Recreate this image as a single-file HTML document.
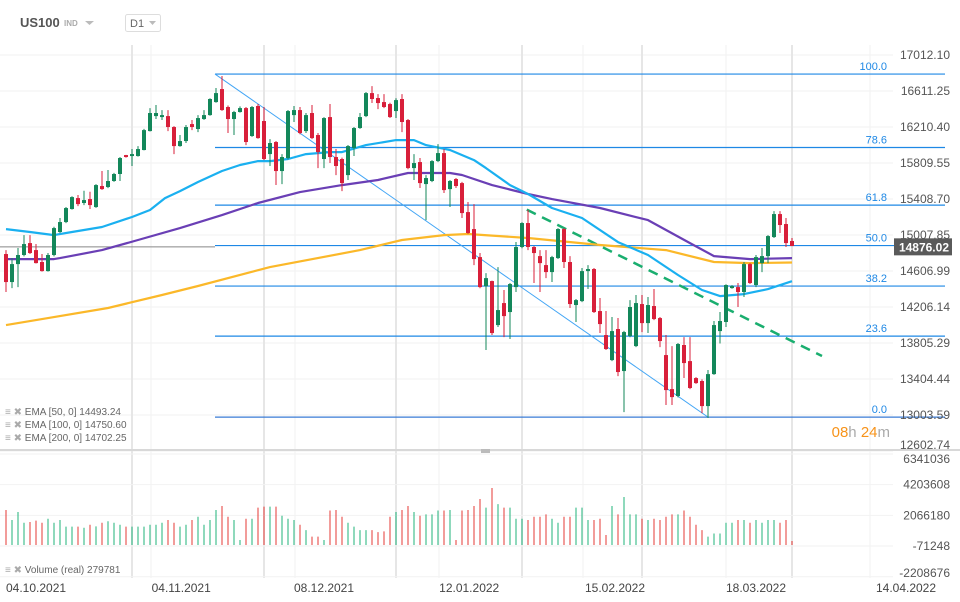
<!DOCTYPE html>
<html><head><meta charset="utf-8">
<style>
html,body{margin:0;padding:0;background:#fff;}
svg{display:block;font-family:"Liberation Sans",sans-serif;}
</style></head>
<body>
<svg id="chart" width="960" height="602" viewBox="0 0 960 602">
  <g id="grid"></g>
  <g id="vol"></g>
  <g id="fib"></g>
  <g id="ema"></g>
  <g id="candles"></g>
  <g id="axes"></g>
  <g>
    <text x="20" y="27" font-size="13" font-weight="bold" fill="#555">US100</text>
    <text x="64" y="26" font-size="8" font-weight="bold" fill="#aaa">IND</text>
    <path d="M85 21 L94 21 L89.5 25 Z" fill="#bbb"/>
    <rect x="125.5" y="14.5" width="35" height="17" rx="2" fill="#fff" stroke="#ddd"/>
    <text x="130" y="27" font-size="11" fill="#666">D1</text>
    <path d="M149 21 L156 21 L152.5 25 Z" fill="#bbb"/>
  </g>
  <g font-size="10" fill="#666">
    <text x="5" y="415"><tspan fill="#aaa">≡ ✖</tspan> EMA [50,  0] 14493.24</text>
    <text x="5" y="428"><tspan fill="#aaa">≡ ✖</tspan> EMA [100,  0] 14750.60</text>
    <text x="5" y="441"><tspan fill="#aaa">≡ ✖</tspan> EMA [200,  0] 14702.25</text>
    <text x="5" y="573"><tspan fill="#aaa">≡ ✖</tspan> Volume  (real)  279781</text>
  </g>
  <text x="890" y="437" font-size="15" text-anchor="end"><tspan fill="#f7931a">08</tspan><tspan fill="#aaa">h </tspan><tspan fill="#f7931a">24</tspan><tspan fill="#aaa">m</tspan></text>
</svg>
<script>
// ---- data ----
const openP=[14796,14484,14684,14785,14918,14840,14707,14606,14785,15041,15152,15297,15419,15364,15408,15319,15553,15542,15609,15687,15898,15887,15887,15954,16165,16332,16321,16332,16210,15998,16054,16243,16188,16299,16343,16488,16633,16433,16299,16377,16421,16110,16444,16277,15909,16043,15720,15865,16343,16399,16165,16366,16121,15854,16321,15876,15854,15675,15976,16199,16332,16588,16533,16488,16466,16388,16522,16288,15753,15820,15575,15609,15831,15920,15519,15631,15586,15263,15074,14762,14439,14495,14005,14250,14150,14428,14874,15141,14874,14773,14673,14595,14751,15074,14707,14228,14272,14606,14629,14161,13894,13615,13961,13493,13883,13771,14239,14027,14217,14083,13671,13292,13215,13783,13604,13415,13382,13103,13459,13938,14039,14417,14428,14373,14684,14451,14695,14773,14985,15241,15130,14941];
const highP=[14840,14751,14863,15007,15007,14907,14796,14807,15100,15197,15320,15440,15453,15500,15490,15575,15720,15731,15700,15876,15900,15965,15998,16190,16420,16455,16399,16399,16220,16121,16232,16288,16343,16399,16530,16644,16778,16450,16390,16440,16433,16444,16466,16433,16076,16054,15909,16400,16444,16433,16366,16455,16143,16320,16466,15965,15870,16010,16210,16366,16600,16666,16577,16577,16480,16530,16577,16300,15909,15865,15675,15842,16020,15965,15620,15642,15600,15375,15352,14807,14584,14500,14650,14395,14473,14930,15150,15286,14885,14840,14840,14775,15085,15085,14773,14295,14640,14673,14640,14306,14161,14095,14083,13940,14283,14340,14340,14317,14406,14095,13894,13771,13805,13871,13871,13425,13400,13504,14050,14150,14460,14450,14473,14707,14695,14785,14863,15007,15274,15274,15197,14974];
const lowP=[14373,14417,14428,14770,14796,14690,14600,14600,14770,15030,15140,15290,15330,15341,15297,15310,15510,15530,15600,15609,15870,15776,15880,15950,16160,16299,16288,16165,15909,15990,16032,16176,16154,16290,16335,16480,16390,16143,16121,16370,16009,16100,16080,15842,15776,15564,15575,15850,16266,16130,16143,16076,15753,15753,15809,15675,15497,15620,15887,16190,16321,16477,16410,16421,16310,16310,16154,15740,15620,15531,15174,15597,15820,15475,15319,15531,15197,15020,14673,14415,13727,13894,13983,13871,13850,14373,14860,14840,14473,14373,14528,14484,14740,14640,14195,14039,14260,14406,14140,13916,13727,13604,13437,13036,13870,13760,13927,13916,14060,13760,13115,13115,13200,13415,13292,13350,13025,12970,13450,13800,13983,14410,14206,14317,14462,14428,14595,14695,14974,15030,14874,14885];
const closeP=[14484,14684,14785,14907,14807,14695,14606,14785,15085,15152,15308,15430,15352,15397,15341,15564,15519,15609,15687,15865,15876,15909,15965,16176,16366,16366,16343,16210,15998,16054,16210,16210,16310,16343,16522,16588,16399,16299,16377,16421,16043,16433,16087,15854,16032,15720,15876,16388,16399,16143,16343,16087,15931,16310,15876,15776,15586,15998,16199,16321,16588,16522,16477,16433,16321,16510,16266,15753,15809,15586,15642,15831,15920,15508,15609,15553,15252,15030,14740,14428,14528,13916,14172,14105,14462,14874,15141,14874,14807,14695,14595,14762,15074,14707,14239,14283,14606,14629,14150,14016,13738,13938,13482,13927,14206,14250,14027,14228,14072,13827,13281,13203,13794,13582,13304,13359,13103,13459,14005,14050,14451,14439,14373,14684,14473,14762,14773,14996,15241,15119,14918,14885];
const volumeM=[2.44,1.74,2.30,1.55,1.60,1.70,1.55,1.83,1.55,1.74,1.28,1.28,1.28,1.20,1.41,1.30,1.55,1.65,1.55,1.41,1.28,
1.28,1.28,1.28,1.41,1.41,1.55,1.74,1.55,1.28,1.41,1.74,1.97,1.41,1.74,2.44,2.72,1.97,1.74,
0.35,
1.83,1.83,2.60,2.67,2.67,2.67,2.04,1.83,1.74,1.41,
1.04,0.58,0.58,0.35,2.40,2.44,
1.97,1.55,1.28,1.04,1.04,1.04,0.90,0.95,1.97,2.30,2.44,2.72,2.30,2.04,2.13,2.13,2.40,2.40,2.44,
0.35,
2.40,2.44,2.72,3.20,2.60,3.97,2.85,2.60,2.60,1.83,1.83,1.74,1.97,1.97,2.13,1.83,1.55,1.97,1.97,2.60,2.60,1.74,1.74,1.83,
0.70,
2.72,2.13,3.34,2.13,2.13,1.83,1.74,1.83,1.74,1.97,2.13,2.13,2.40,1.97,1.41,
1.04,0.58,0.80,0.80,1.55,1.55,
1.74,1.74,1.55,1.74,1.55,1.74,1.74,1.55,1.74,
0.28];
const ema50Idx=[0,4,8,11,16,21,24,26.5,29,32,36,39,42,44,47,50,54,56,60,65,68,70,74,78,80,84,87,91,96,102,107,112,116,119,123,127,131];
const ema50Val=[15074,15041,15007,15041,15097,15208,15286,15419,15497,15598,15720,15787,15831,15831,15854,15909,15931,15931,16009,16065,16065,16009,15954,15842,15753,15564,15464,15308,15197,14929,14785,14562,14395,14328,14350,14406,14493];
const ema100Idx=[0,8,9,16,22,29,36,42,49,56,62,67,74,76,81,87,91,99,107,114,118,124,131];
const ema100Val=[14740,14740,14751,14840,14952,15085,15230,15364,15486,15564,15620,15698,15698,15676,15564,15464,15408,15308,15174,14918,14773,14740,14751];
const ema200Idx=[0,7,17,26,32,44,59,66,73,77,87,99,110,118,124,131];
const ema200Val=[14005,14083,14195,14340,14440,14651,14840,14952,15007,15019,14974,14896,14840,14707,14695,14702];
const priceTicks=["17012.10","16611.25","16210.40","15809.55","15408.70","15007.85","14606.99","14206.14","13805.29","13404.44","13003.59","12602.74"];
const volTicks=["6341036","4203608","2066180","-71248","-2208676"];
const dateLabels=["04.10.2021","04.11.2021","08.12.2021","12.01.2022","15.02.2022","18.03.2022","14.04.2022"];
const dateIdx=[0,29.2,53,77.2,101.5,125,150];
const fibLevels=[0,23.6,38.2,50,61.8,78.6,100];
const fibHigh=16800, fibLow=12980, fibStartIdx=35, fibEndIdx=117;
const trendStartIdx=86.8, trendStartP=15290, trendEndIdx=136, trendEndP=13660;
const lastPrice=14876.02;

// ---- scales ----
const NS="http://www.w3.org/2000/svg";
const xOf=i=>6+6*i;
const yOf=p=>55+(17012.1-p)*0.08981;
const vBase=545, yV=v=>vBase-v*14.36;
function mk(tag,attrs,parent){const e=document.createElementNS(NS,tag);for(const k in attrs)e.setAttribute(k,attrs[k]);parent.appendChild(e);return e;}
const grid=document.getElementById('grid'),axes=document.getElementById('axes');

// grid
priceTicks.forEach((t,i)=>{const y=yOf(parseFloat(t));
  const l=mk('line',{x1:0,x2:893,y1:y,y2:y,stroke:'#f2f2f2','stroke-width':1},grid);
  
  
  const tx=mk('text',{x:950,y:Math.min(y+4,449),'font-size':12,fill:'#555','text-anchor':'end'},axes);
  tx.textContent=t;
  
  
});
[132,264,396,522,642,792].forEach(x=>{const l=mk('line',{x1:x,x2:x,y1:45,y2:578,stroke:'#e6e6e6','stroke-width':2},grid);
  
  });
[151,295,439,583,726,870].forEach(x=>{const l=mk('line',{x1:x,x2:x,y1:45,y2:578,stroke:'#f2f2f2','stroke-width':1},grid);
  
  });
volTicks.forEach(t=>{const v=parseFloat(t)/1e6;const y=yV(v);
  const l=mk('line',{x1:0,x2:893,y1:y,y2:y,stroke:'#f2f2f2'},grid);
  
  
  const tx=mk('text',{x:950,y:Math.max(463,Math.min(y+4,577)),'font-size':12,fill:'#555','text-anchor':'end'},axes);
  tx.textContent=t;
  
  
});
const sep=mk('line',{x1:0,x2:960,y1:450,y2:450,stroke:'#d8d8d8','stroke-width':2},axes);


const hnd=mk('rect',{x:481,y:449,width:9,height:4,fill:'#bbb'},axes);


dateLabels.forEach((d,i)=>{const x=xOf(dateIdx[i]);
  const tx=mk('text',{x:i==0?6:x,y:592,'font-size':12,fill:'#444','text-anchor':i==0?'start':'middle'},axes);
  tx.textContent=d;
  
  
});

// volume
const vol=document.getElementById('vol');
volumeM.forEach((v,i)=>{const up=closeP[i]>=openP[i];
  const l=mk('line',{x1:xOf(i),x2:xOf(i),y1:yV(v),y2:vBase,stroke:up?'#1fb37a':'#e53935','stroke-width':1},vol);
  
  
});

// fib
const fib=document.getElementById('fib');
fibLevels.forEach(f=>{const p=fibLow+(fibHigh-fibLow)*f/100;const y=yOf(p);
  const l=mk('line',{x1:xOf(fibStartIdx)-1,x2:945,y1:y,y2:y,stroke:f==0?'#3a7bd5':'#1e88e5','stroke-width':1.2},fib);
  
  
  const t=mk('text',{x:887,y:y-4,'font-size':11,fill:'#1e88e5','text-anchor':'end'},fib);
  t.textContent=f.toFixed(1);
  
  
});
const diag=mk('line',{x1:xOf(fibStartIdx)-1,y1:yOf(fibHigh),x2:xOf(fibEndIdx),y2:yOf(fibLow),stroke:'#42a5f5','stroke-width':1},fib);


const tl=mk('line',{x1:xOf(trendStartIdx),y1:yOf(trendStartP),x2:xOf(trendEndIdx),y2:yOf(trendEndP),stroke:'#1aae6f','stroke-width':2.5,'stroke-dasharray':'10 7'},fib);


const ly=yOf(lastPrice);
const lp=mk('line',{x1:0,x2:215,y1:ly,y2:ly,stroke:'#888','stroke-width':1},fib);



// EMAs
const emaG=document.getElementById('ema');
function emaPath(idx,val,color,name){const d=idx.map((i,k)=>(k?'L':'M')+xOf(i).toFixed(1)+' '+yOf(val[k]).toFixed(1)).join(' ');
  const p=mk('path',{d:d,fill:'none',stroke:color,'stroke-width':2.2,'stroke-linejoin':'round'},emaG);
  
  
}
emaPath(ema200Idx,ema200Val,'#fbb829','ema200-line');
emaPath(ema100Idx,ema100Val,'#6a3fb5','ema100-line');
emaPath(ema50Idx,ema50Val,'#1ab0f0','ema50-line');

// candles
const cg=document.getElementById('candles');
openP.forEach((o,i)=>{const c=closeP[i],up=c>=o,col=up?'#13875a':'#d81f3a',x=xOf(i);
  const w=mk('line',{x1:x,x2:x,y1:yOf(highP[i]),y2:yOf(lowP[i]),stroke:col,'stroke-width':1},cg);
  
  
  const yt=yOf(Math.max(o,c)),yb=yOf(Math.min(o,c));
  const b=mk('rect',{x:x-2,y:yt,width:4,height:Math.max(1.5,yb-yt),fill:col},cg);
  
  
});

// last price tag
const tag=mk('rect',{x:894,y:ly-8.5,width:58,height:17,fill:'#5a5a5a'},axes);


const tt=mk('text',{x:949,y:ly+4.5,'font-size':12,'font-weight':'bold',fill:'#fff','text-anchor':'end'},axes);
tt.textContent=lastPrice.toFixed(2);


</script>
</body></html>
